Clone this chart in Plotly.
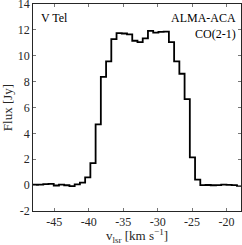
import plotly.graph_objects as go

# channel centre velocities (km/s)
velocity = [-47.75, -46.99, -46.23, -45.47, -44.71, -43.95, -43.19, -42.43, -41.67, -40.91,
            -40.15, -39.39, -38.63,
            -37.87, -37.11, -36.35, -35.59, -34.83, -34.07, -33.31, -32.55, -31.79, -31.03,
            -30.27, -29.51, -28.75, -27.99, -27.23, -26.47, -25.71,
            -24.95, -24.19,
            -23.43, -22.67, -21.91, -21.15, -20.39, -19.63, -18.87, -18.11, -17.35]
# flux density (Jy)
flux = [0.03, 0.04, 0.08, 0.10, -0.03, 0.04, -0.01, -0.07, 0.06, 0.20,
        0.60, 1.70, 4.70,
        8.36, 9.56, 11.29, 11.75, 11.72, 11.65, 11.16, 11.06, 11.34, 11.93,
        11.78, 11.85, 11.87, 11.06, 9.56, 8.61, 6.65,
        2.15, 0.42,
        0.00, 0.01, -0.01, 0.00, 0.04, 0.02, 0.00, -0.06, -0.05]

x_ticks = [-45, -40, -35, -30, -25, -20]
y_ticks = [-2, 0, 2, 4, 6, 8, 10, 12, 14]

# step edges derived from the channel centres
half = (velocity[1] - velocity[0]) / 2
edges = [v - half for v in velocity] + [velocity[-1] + half]
steps = flux + [flux[-1]]

FONT = "Liberation Serif"
AX = "#262626"

fig = go.Figure()
fig.add_trace(go.Scatter(x=edges, y=steps, mode="lines", line_shape="hv",
                         line=dict(color="black", width=1.8), showlegend=False,
                         hoverinfo="skip"))

axis_common = dict(ticks="inside", ticklen=3, tickwidth=0.8, tickcolor="#777",
                   showline=True, linecolor=AX, linewidth=0.8, mirror="ticks",
                   showgrid=False, zeroline=False, ticklabeloverflow="allow",
                   automargin=False,
                   tickfont=dict(family=FONT, size=12, color=AX))

fig.update_layout(
    width=242, height=245,
    margin=dict(l=33, r=1, t=4, b=34),
    paper_bgcolor="white", plot_bgcolor="white",
    xaxis=dict(range=[-48.1, -17.9], tickvals=x_ticks,
               ticktext=[str(t) for t in x_ticks],
               title=dict(text="v<sub>lsr</sub> [km s<sup>−1</sup>]",
                          font=dict(family=FONT, size=13, color=AX)),
               **axis_common),
    yaxis=dict(range=[-2, 14], tickvals=y_ticks,
               ticktext=[str(t) for t in y_ticks],
               title=dict(text="Flux [Jy]", font=dict(family=FONT, size=13, color=AX)),
               **axis_common),
    annotations=[
        dict(text="V Tel", xref="paper", yref="paper", x=0.03, y=0.975,
             xanchor="left", yanchor="top", showarrow=False,
             font=dict(family=FONT, size=12, color="black")),
        dict(text="ALMA-ACA<br>CO(2-1)", xref="paper", yref="paper", x=0.985, y=0.975,
             xanchor="right", yanchor="top", showarrow=False, align="right",
             font=dict(family=FONT, size=12, color="black")),
    ],
)

fig.write_html("out.html", config={"displayModeBar": False},
               post_script="document.body.style.margin='0';document.body.style.overflow='hidden';")
